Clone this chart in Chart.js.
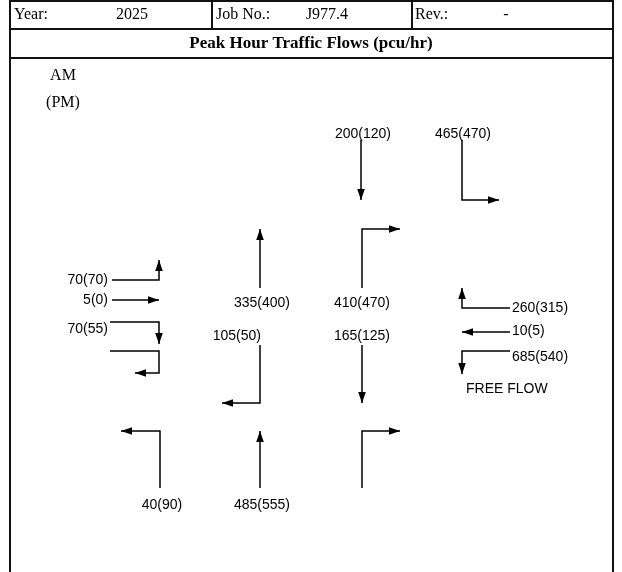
<!DOCTYPE html>
<html><head><meta charset="utf-8">
<script src="https://cdn.jsdelivr.net/npm/chart.js@4"></script>
<style>html,body{margin:0;padding:0;background:#fff}</style>
</head><body><canvas id="c" width="622" height="572"></canvas>
<script>
// ---- header text ----
const year = '2025';
const jobNo = 'J977.4';
const rev = '-';
const title = 'Peak Hour Traffic Flows (pcu/hr)';

// ---- flow values (AM and PM peaks, pcu/hr) ----
const movements = ['N-SB', 'N-RT', 'W-LT', 'W-TH', 'W-RT', 'C-NB', 'C-NB-R', 'C-SB-L', 'C-SB', 'E-RT', 'E-TH', 'E-LT', 'S-LT', 'S-TH'];
const amFlows = [200, 465, 70, 5, 70, 335, 410, 105, 165, 260, 10, 685, 40, 485];
const pmFlows = [120, 470, 70, 0, 55, 400, 470, 50, 125, 315, 5, 540, 90, 555];

// ---- layout (drawing geometry, in scale units) ----
const pathGeom = [
  [[361,140],[361,200]],
  [[462,140],[462,200],[499,200]],
  [[112,280],[159,280],[159,260]],
  [[112,300],[159,300]],
  [[110,322],[159,322],[159,344]],
  [[260,288],[260,229]],
  [[362,288],[362,229],[400,229]],
  [[260,345],[260,403],[222,403]],
  [[362,345],[362,403]],
  [[510,308],[462,308],[462,288]],
  [[510,332],[462,332]],
  [[510,351],[462,351],[462,374]],
  [[160,488],[160,431],[121,431]],
  [[260,488],[260,431]]
];
const extraGeom = [
  [[110,351],[159,351],[159,373],[135,373]],
  [[362,488],[362,431],[400,431]]
];
const labelGeom = [
  [363,134,'center'],[463,134,'center'],
  [108,280,'right'],[108,300,'right'],[108,329,'right'],
  [262,303,'center'],[362,303,'center'],[261,336,'right'],[362,336,'center'],
  [512,308,'left'],[512,331,'left'],[512,357,'left'],
  [162,505,'center'],[262,505,'center']
];

const datasets = pathGeom.concat(extraGeom).map((pts, i) => ({
  label: i < movements.length ? movements[i] : 'extra' + i,
  data: pts.map(p => ({x: p[0], y: p[1]})),
  showLine: true, borderColor: '#000', borderWidth: 1.5,
  pointRadius: 0, fill: false, tension: 0
}));

const decor = {
  id: 'decor',
  beforeDatasetsDraw(chart) {
    const {ctx, scales: {x, y}} = chart;
    const X = v => x.getPixelForValue(v), Y = v => y.getPixelForValue(v);
    ctx.save();
    ctx.strokeStyle = '#111'; ctx.lineWidth = 2;
    const seg = (a, b, c, d) => { ctx.beginPath(); ctx.moveTo(X(a), Y(b)); ctx.lineTo(X(c), Y(d)); ctx.stroke(); };
    seg(10, 0, 10, 572); seg(613, 0, 613, 572);
    seg(10, 1, 613, 1); seg(10, 29, 613, 29); seg(10, 58, 613, 58);
    seg(212, 1, 212, 29); seg(412, 1, 412, 29);
    ctx.fillStyle = '#000'; ctx.textBaseline = 'middle';
    ctx.font = '16px "Liberation Serif", "Times New Roman", serif';
    ctx.textAlign = 'left';
    ctx.fillText('Year:', X(14), Y(15));
    ctx.fillText('Job No.:', X(216), Y(15));
    ctx.fillText('Rev.:', X(415), Y(15));
    ctx.textAlign = 'center';
    ctx.fillText(year, X(132), Y(15));
    ctx.fillText(jobNo, X(327), Y(15));
    ctx.fillText(rev, X(506), Y(15));
    ctx.fillText('AM', X(63), Y(76));
    ctx.fillText('(PM)', X(63), Y(103));
    ctx.font = 'bold 17px "Liberation Serif", "Times New Roman", serif';
    ctx.fillText(title, X(311), Y(44));
    ctx.font = '14px "Liberation Sans", Arial, sans-serif';
    amFlows.forEach((v, i) => {
      const g = labelGeom[i];
      ctx.textAlign = g[2];
      ctx.fillText(v + '(' + pmFlows[i] + ')', X(g[0]), Y(g[1]));
    });
    ctx.textAlign = 'left';
    ctx.fillText('FREE FLOW', X(466), Y(389));
    ctx.restore();
  },
  afterDatasetsDraw(chart) {
    const {ctx} = chart;
    ctx.save(); ctx.fillStyle = '#000';
    chart.data.datasets.forEach((ds, i) => {
      const pts = chart.getDatasetMeta(i).data;
      const a = pts[pts.length - 2], b = pts[pts.length - 1];
      const ang = Math.atan2(b.y - a.y, b.x - a.x);
      const L = 11, W = 3.8;
      ctx.beginPath();
      ctx.moveTo(b.x, b.y);
      ctx.lineTo(b.x - L * Math.cos(ang) + W * Math.sin(ang), b.y - L * Math.sin(ang) - W * Math.cos(ang));
      ctx.lineTo(b.x - L * Math.cos(ang) - W * Math.sin(ang), b.y - L * Math.sin(ang) + W * Math.cos(ang));
      ctx.closePath(); ctx.fill();
    });
    ctx.restore();
  }
};

new Chart(document.getElementById('c'), {
  type: 'scatter',
  data: {datasets},
  options: {
    responsive: false, animation: false,
    layout: {padding: 0},
    plugins: {legend: {display: false}, tooltip: {enabled: false}},
    scales: {
      x: {type: 'linear', min: 0, max: 622, display: false},
      y: {type: 'linear', min: 0, max: 572, reverse: true, display: false}
    }
  },
  plugins: [decor]
});
</script></body></html>
